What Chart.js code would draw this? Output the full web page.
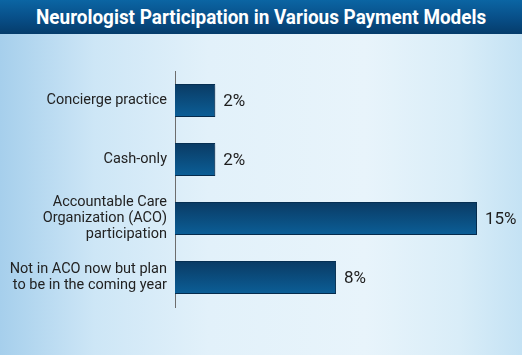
<!DOCTYPE html>
<html>
<head>
<meta charset="utf-8">
<script src="https://cdn.jsdelivr.net/npm/chart.js@4"></script>
<style>
  html, body { margin: 0; padding: 0; }
  body {
    width: 522px; height: 355px; overflow: hidden;
    background: linear-gradient(90deg, #a6cfec 0%, #cde6f6 18%, #e2f1fa 40%, #e8f4fb 70%, #d9edf8 88%, #c4e2f4 100%);
  }
  #header {
    height: 34px; line-height: 34px; text-align: center; white-space: nowrap;
    background: linear-gradient(180deg, #0b65a3 0%, #08508a 50%, #053c6b 100%);
    color: #fff; font-family: Roboto, "DejaVu Sans Condensed", sans-serif;
    font-weight: bold; font-size: 21px;
  }
  #header span { display: inline-block; transform: scaleX(0.9); }
  #wrap { position: relative; width: 522px; height: 321px; }
</style>
</head>
<body>
<div id="header"><span>Neurologist Participation in Various Payment Models</span></div>
<div id="wrap"><canvas id="paymentChart"></canvas></div>
<script>
const categories = [
    'Concierge practice',
    'Cash-only',
    ['Accountable Care', 'Organization (ACO)', 'participation'],
    ['Not in ACO now but plan', 'to be in the coming year']
];
const percentages = [2, 2, 15, 8];

const fontFamily = 'Roboto, "DejaVu Sans Condensed", sans-serif';

// Sombra y etiquetas de valor
const barExtras = {
    id: 'barExtras',
    beforeDatasetsDraw(chart) {
        const ctx = chart.ctx;
        ctx.save();
        ctx.shadowColor = 'rgba(0, 30, 60, 0.35)';
        ctx.shadowOffsetX = 2;
        ctx.shadowOffsetY = 2;
        ctx.shadowBlur = 3;
    },
    afterDatasetsDraw(chart) {
        const ctx = chart.ctx;
        ctx.restore();
        ctx.save();
        ctx.font = '17px ' + fontFamily;
        ctx.fillStyle = '#1e1e1e';
        ctx.textBaseline = 'middle';
        chart.getDatasetMeta(0).data.forEach((bar, i) => {
            ctx.fillText(percentages[i] + '%', bar.x + 8, bar.y + 1);
        });
        ctx.restore();
    }
};

function barGradient(context) {
    const chart = context.chart;
    if (!chart.chartArea) return '#0a4f83';
    const y = chart.scales.y.getPixelForValue(context.dataIndex);
    const g = chart.ctx.createLinearGradient(0, y - 17, 0, y + 17);
    g.addColorStop(0, '#0a3a63');
    g.addColorStop(1, '#0b5f98');
    return g;
}

const ctx = document.getElementById('paymentChart').getContext('2d');
new Chart(ctx, {
    type: 'bar',
    data: {
        labels: categories,
        datasets: [{
            data: percentages,
            backgroundColor: barGradient,
            borderColor: '#062f52',
            borderWidth: 1,
            borderSkipped: 'start',
            barPercentage: 0.56,
            categoryPercentage: 1
        }]
    },
    options: {
        indexAxis: 'y',
        responsive: true,
        maintainAspectRatio: false,
        animation: false,
        layout: { padding: { top: 37, bottom: 48, left: 0, right: 45 } },
        plugins: {
            legend: { display: false },
            tooltip: { enabled: false }
        },
        scales: {
            x: {
                display: false,
                min: 0,
                max: 15
            },
            y: {
                grid: { display: false, drawTicks: false },
                border: { display: true, color: '#6d6d6d', width: 1 },
                ticks: {
                    autoSkip: false,
                    color: '#222',
                    padding: 8,
                    font: { family: fontFamily, size: 14.5, lineHeight: 1.12 }
                },
                afterFit(scale) { scale.width = 175; }
            }
        }
    },
    plugins: [barExtras]
});
</script>
</body>
</html>
